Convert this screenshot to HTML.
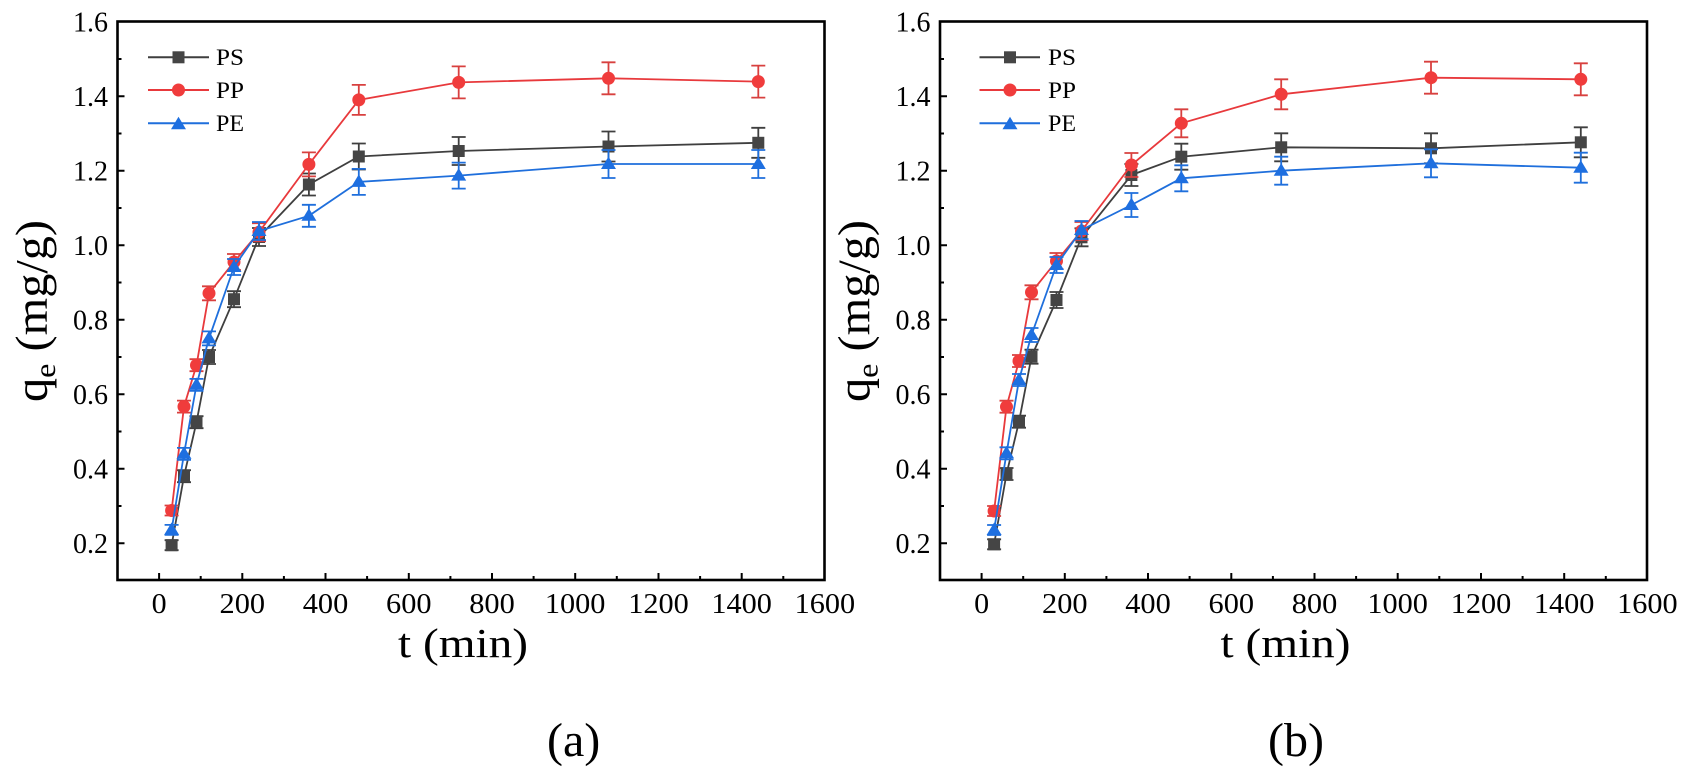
<!DOCTYPE html>
<html><head><meta charset="utf-8"><style>
html,body{margin:0;padding:0;background:#fff;}
svg{display:block;}
text{font-family:"Liberation Serif","Times New Roman",serif;fill:#000;}
</style></head><body>
<svg width="1681" height="768" viewBox="0 0 1681 768" xmlns="http://www.w3.org/2000/svg">
<defs>
<rect id="sq" x="-6" y="-6" width="12" height="12"/>
<circle id="ci" cx="0" cy="0" r="6.5"/>
<path id="tr" d="M0-7.5L7.5 5L-7.5 5Z"/>
<path id="e5" d="M0-5V5M-7-5h14M-7 5h14"/>
<path id="e6" d="M0-6V6M-7-6h14M-7 6h14"/>
<path id="e7" d="M0-7V7M-7-7h14M-7 7h14"/>
<path id="e8" d="M0-8V8M-7-8h14M-7 8h14"/>
<path id="e9" d="M0-9V9M-7-9h14M-7 9h14"/>
<path id="e11" d="M0-11V11M-7-11h14M-7 11h14"/>
<path id="e12" d="M0-12V12M-7-12h14M-7 12h14"/>
<path id="e13" d="M0-13V13M-7-13h14M-7 13h14"/>
<path id="e14" d="M0-14V14M-7-14h14M-7 14h14"/>
<path id="e15" d="M0-15V15M-7-15h14M-7 15h14"/>
<path id="e16" d="M0-16V16M-7-16h14M-7 16h14"/>

<g id="axes">
<rect x="117.5" y="21.5" width="707" height="558.5" fill="none" stroke="#000" stroke-width="2.6"/>
<path stroke="#000" stroke-width="2" fill="none" d="
M159.1 580v-7M242.3 580v-7M325.5 580v-7M408.8 580v-7M492 580v-7M575.2 580v-7M658.5 580v-7M741.7 580v-7
M200.7 580v-4M283.9 580v-4M367.1 580v-4M450.4 580v-4M533.6 580v-4M616.8 580v-4M700.1 580v-4M783.3 580v-4
M117.5 543.3h7M117.5 468.8h7M117.5 394.3h7M117.5 319.7h7M117.5 245.2h7M117.5 170.7h7M117.5 96.2h7
M117.5 506h4M117.5 431.5h4M117.5 357h4M117.5 282.5h4M117.5 208h4M117.5 133.5h4M117.5 59h4"/>
<g font-size="28" text-anchor="end">
<text x="108" y="553">0.2</text>
<text x="108" y="478.5">0.4</text>
<text x="108" y="404">0.6</text>
<text x="108" y="329.5">0.8</text>
<text x="108" y="255">1.0</text>
<text x="108" y="180.5">1.2</text>
<text x="108" y="106">1.4</text>
<text x="108" y="31.5">1.6</text>
</g>
<g font-size="28" text-anchor="middle">
<text x="159.1" y="613" textLength="15" lengthAdjust="spacingAndGlyphs">0</text>
<text x="242.3" y="613" textLength="45.5" lengthAdjust="spacingAndGlyphs">200</text>
<text x="325.5" y="613" textLength="45.5" lengthAdjust="spacingAndGlyphs">400</text>
<text x="408.8" y="613" textLength="45.5" lengthAdjust="spacingAndGlyphs">600</text>
<text x="492" y="613" textLength="45.5" lengthAdjust="spacingAndGlyphs">800</text>
<text x="575.2" y="613" textLength="60.5" lengthAdjust="spacingAndGlyphs">1000</text>
<text x="658.5" y="613" textLength="60.5" lengthAdjust="spacingAndGlyphs">1200</text>
<text x="741.7" y="613" textLength="60.5" lengthAdjust="spacingAndGlyphs">1400</text>
<text x="824.9" y="613" textLength="60.5" lengthAdjust="spacingAndGlyphs">1600</text>
</g>
<text x="398" y="657" font-size="41" textLength="130" lengthAdjust="spacingAndGlyphs">t (min)</text>
<text transform="translate(47,311) rotate(-90)" font-size="45" text-anchor="middle" textLength="182" lengthAdjust="spacingAndGlyphs">q<tspan font-size="30" dy="8">e</tspan><tspan dy="-8"> (mg/g)</tspan></text>
</g>
</defs>

<!-- ===== Chart (a) ===== -->
<use href="#axes"/>

<!-- PS a -->
<g stroke="#3f3f3f" fill="#454545">
<polyline fill="none" stroke-width="1.8" points="171.6,545.2 184,476.2 196.5,422.2 209,357 234,299.2 259,237 308.9,184.5 358.8,156.5 458.7,151 608.5,146.5 758.3,142.8"/>
<g fill="none" stroke-width="1.8">
<use href="#e5" x="171.6" y="545.2"/><use href="#e6" x="184" y="476.2"/><use href="#e6" x="196.5" y="422.2"/><use href="#e7" x="209" y="357"/><use href="#e8" x="234" y="299.2"/><use href="#e9" x="259" y="237"/><use href="#e11" x="308.9" y="184.5"/><use href="#e13" x="358.8" y="156.5"/><use href="#e14" x="458.7" y="151"/><use href="#e15" x="608.5" y="146.5"/><use href="#e15" x="758.3" y="142.8"/>
</g>
<g stroke="none">
<use href="#sq" x="171.6" y="545.2"/><use href="#sq" x="184" y="476.2"/><use href="#sq" x="196.5" y="422.2"/><use href="#sq" x="209" y="357"/><use href="#sq" x="234" y="299.2"/><use href="#sq" x="259" y="237"/><use href="#sq" x="308.9" y="184.5"/><use href="#sq" x="358.8" y="156.5"/><use href="#sq" x="458.7" y="151"/><use href="#sq" x="608.5" y="146.5"/><use href="#sq" x="758.3" y="142.8"/>
</g>
</g>

<!-- PP a -->
<g stroke="#e8393c" fill="#f03c3c">
<polyline fill="none" stroke-width="1.8" points="171.6,510.5 184,406.6 196.5,365.2 209,293.3 234,262 259,232.2 308.9,164.4 358.8,99.9 458.7,82.4 608.5,78.3 758.3,81.6"/>
<g fill="none" stroke-width="1.8" stroke="#d8403f">
<use href="#e5" x="171.6" y="510.5"/><use href="#e6" x="184" y="406.6"/><use href="#e6" x="196.5" y="365.2"/><use href="#e7" x="209" y="293.3"/><use href="#e8" x="234" y="262"/><use href="#e9" x="259" y="232.2"/><use href="#e12" x="308.9" y="164.4"/><use href="#e15" x="358.8" y="99.9"/><use href="#e16" x="458.7" y="82.4"/><use href="#e16" x="608.5" y="78.3"/><use href="#e16" x="758.3" y="81.6"/>
</g>
<g stroke="none">
<use href="#ci" x="171.6" y="510.5"/><use href="#ci" x="184" y="406.6"/><use href="#ci" x="196.5" y="365.2"/><use href="#ci" x="209" y="293.3"/><use href="#ci" x="234" y="262"/><use href="#ci" x="259" y="232.2"/><use href="#ci" x="308.9" y="164.4"/><use href="#ci" x="358.8" y="99.9"/><use href="#ci" x="458.7" y="82.4"/><use href="#ci" x="608.5" y="78.3"/><use href="#ci" x="758.3" y="81.6"/>
</g>
</g>

<!-- PE a -->
<g stroke="#1f6fdc" fill="#1e6fe0">
<polyline fill="none" stroke-width="1.8" points="171.6,529.9 184,453.9 196.5,384.9 209,338.4 234,267 259,231 308.9,215.8 358.8,181.9 458.7,175.6 608.5,164 758.3,164"/>
<g fill="none" stroke-width="1.8">
<use href="#e5" x="171.6" y="529.9"/><use href="#e6" x="184" y="453.9"/><use href="#e6" x="196.5" y="384.9"/><use href="#e7" x="209" y="338.4"/><use href="#e8" x="234" y="267"/><use href="#e9" x="259" y="231"/><use href="#e11" x="308.9" y="215.8"/><use href="#e13" x="358.8" y="181.9"/><use href="#e13" x="458.7" y="175.6"/><use href="#e14" x="608.5" y="164"/><use href="#e14" x="758.3" y="164"/>
</g>
<g stroke="none">
<use href="#tr" x="171.6" y="529.9"/><use href="#tr" x="184" y="453.9"/><use href="#tr" x="196.5" y="384.9"/><use href="#tr" x="209" y="338.4"/><use href="#tr" x="234" y="267"/><use href="#tr" x="259" y="231"/><use href="#tr" x="308.9" y="215.8"/><use href="#tr" x="358.8" y="181.9"/><use href="#tr" x="458.7" y="175.6"/><use href="#tr" x="608.5" y="164"/><use href="#tr" x="758.3" y="164"/>
</g>
</g>

<!-- legend a -->
<g stroke-width="2">
<line x1="148" y1="57.3" x2="209" y2="57.3" stroke="#3f3f3f"/>
<use href="#sq" x="178.5" y="57.3" fill="#454545"/>
<line x1="148" y1="90" x2="209" y2="90" stroke="#e8393c"/>
<use href="#ci" x="178.5" y="90" fill="#f03c3c"/>
<line x1="148" y1="123.3" x2="209" y2="123.3" stroke="#1f6fdc"/>
<use href="#tr" x="178.5" y="124.3" fill="#1e6fe0"/>
</g>
<g font-size="23">
<text x="216" y="65" textLength="28" lengthAdjust="spacingAndGlyphs">PS</text>
<text x="216" y="98" textLength="28" lengthAdjust="spacingAndGlyphs">PP</text>
<text x="216" y="131" textLength="28" lengthAdjust="spacingAndGlyphs">PE</text>
</g>

<text x="547" y="756" font-size="48">(a)</text>

<!-- ===== Chart (b) ===== -->
<use href="#axes" x="822.5"/>

<!-- PS b -->
<g stroke="#3f3f3f" fill="#454545">
<polyline fill="none" stroke-width="1.8" points="994.1,544.3 1006.5,474 1019,421.7 1031.5,356.7 1056.5,300 1081.5,237.3 1131.4,175 1181.3,156.7 1281.2,147.3 1431,148.3 1580.8,142.3"/>
<g fill="none" stroke-width="1.8">
<use href="#e5" x="994.1" y="544.3"/><use href="#e6" x="1006.5" y="474"/><use href="#e6" x="1019" y="421.7"/><use href="#e7" x="1031.5" y="356.7"/><use href="#e8" x="1056.5" y="300"/><use href="#e9" x="1081.5" y="237.3"/><use href="#e11" x="1131.4" y="175"/><use href="#e13" x="1181.3" y="156.7"/><use href="#e14" x="1281.2" y="147.3"/><use href="#e15" x="1431" y="148.3"/><use href="#e15" x="1580.8" y="142.3"/>
</g>
<g stroke="none">
<use href="#sq" x="994.1" y="544.3"/><use href="#sq" x="1006.5" y="474"/><use href="#sq" x="1019" y="421.7"/><use href="#sq" x="1031.5" y="356.7"/><use href="#sq" x="1056.5" y="300"/><use href="#sq" x="1081.5" y="237.3"/><use href="#sq" x="1131.4" y="175"/><use href="#sq" x="1181.3" y="156.7"/><use href="#sq" x="1281.2" y="147.3"/><use href="#sq" x="1431" y="148.3"/><use href="#sq" x="1580.8" y="142.3"/>
</g>
</g>

<!-- PP b -->
<g stroke="#e8393c" fill="#f03c3c">
<polyline fill="none" stroke-width="1.8" points="994.1,511 1006.5,406.7 1019,361 1031.5,292.3 1056.5,261 1081.5,231 1131.4,165 1181.3,123.3 1281.2,94.3 1431,77.7 1580.8,79.3"/>
<g fill="none" stroke-width="1.8" stroke="#d8403f">
<use href="#e5" x="994.1" y="511"/><use href="#e6" x="1006.5" y="406.7"/><use href="#e6" x="1019" y="361"/><use href="#e7" x="1031.5" y="292.3"/><use href="#e8" x="1056.5" y="261"/><use href="#e9" x="1081.5" y="231"/><use href="#e12" x="1131.4" y="165"/><use href="#e14" x="1181.3" y="123.3"/><use href="#e15" x="1281.2" y="94.3"/><use href="#e16" x="1431" y="77.7"/><use href="#e16" x="1580.8" y="79.3"/>
</g>
<g stroke="none">
<use href="#ci" x="994.1" y="511"/><use href="#ci" x="1006.5" y="406.7"/><use href="#ci" x="1019" y="361"/><use href="#ci" x="1031.5" y="292.3"/><use href="#ci" x="1056.5" y="261"/><use href="#ci" x="1081.5" y="231"/><use href="#ci" x="1131.4" y="165"/><use href="#ci" x="1181.3" y="123.3"/><use href="#ci" x="1281.2" y="94.3"/><use href="#ci" x="1431" y="77.7"/><use href="#ci" x="1580.8" y="79.3"/>
</g>
</g>

<!-- PE b -->
<g stroke="#1f6fdc" fill="#1e6fe0">
<polyline fill="none" stroke-width="1.8" points="994.1,530 1006.5,453.3 1019,380 1031.5,335 1056.5,265 1081.5,230 1131.4,205 1181.3,178.3 1281.2,170.7 1431,163.3 1580.8,167.7"/>
<g fill="none" stroke-width="1.8">
<use href="#e5" x="994.1" y="530"/><use href="#e6" x="1006.5" y="453.3"/><use href="#e6" x="1019" y="380"/><use href="#e7" x="1031.5" y="335"/><use href="#e8" x="1056.5" y="265"/><use href="#e9" x="1081.5" y="230"/><use href="#e12" x="1131.4" y="205"/><use href="#e13" x="1181.3" y="178.3"/><use href="#e14" x="1281.2" y="170.7"/><use href="#e14" x="1431" y="163.3"/><use href="#e15" x="1580.8" y="167.7"/>
</g>
<g stroke="none">
<use href="#tr" x="994.1" y="530"/><use href="#tr" x="1006.5" y="453.3"/><use href="#tr" x="1019" y="380"/><use href="#tr" x="1031.5" y="335"/><use href="#tr" x="1056.5" y="265"/><use href="#tr" x="1081.5" y="230"/><use href="#tr" x="1131.4" y="205"/><use href="#tr" x="1181.3" y="178.3"/><use href="#tr" x="1281.2" y="170.7"/><use href="#tr" x="1431" y="163.3"/><use href="#tr" x="1580.8" y="167.7"/>
</g>
</g>

<!-- legend b -->
<g stroke-width="2">
<line x1="979.5" y1="57.3" x2="1040" y2="57.3" stroke="#3f3f3f"/>
<use href="#sq" x="1010" y="57.3" fill="#454545"/>
<line x1="979.5" y1="90" x2="1040" y2="90" stroke="#e8393c"/>
<use href="#ci" x="1010" y="90" fill="#f03c3c"/>
<line x1="979.5" y1="123.3" x2="1040" y2="123.3" stroke="#1f6fdc"/>
<use href="#tr" x="1010" y="124.3" fill="#1e6fe0"/>
</g>
<g font-size="23">
<text x="1048" y="65" textLength="28" lengthAdjust="spacingAndGlyphs">PS</text>
<text x="1048" y="98" textLength="28" lengthAdjust="spacingAndGlyphs">PP</text>
<text x="1048" y="131" textLength="28" lengthAdjust="spacingAndGlyphs">PE</text>
</g>

<text x="1268" y="756" font-size="48">(b)</text>
</svg>
</body></html>
